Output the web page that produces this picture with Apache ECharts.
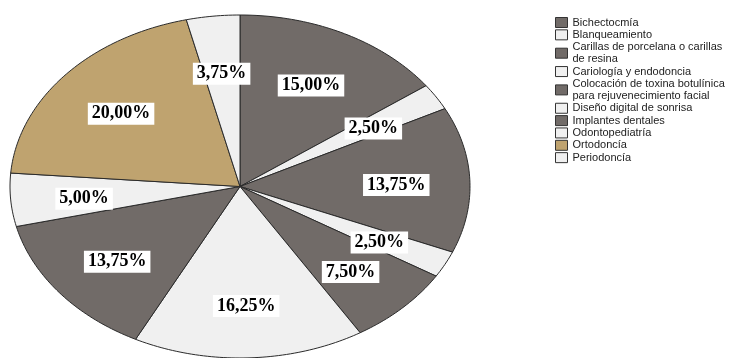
<!DOCTYPE html>
<html><head><meta charset="utf-8">
<script src="https://cdn.jsdelivr.net/npm/echarts@6/dist/echarts.min.js"></script>
<style>html,body{margin:0;padding:0;background:#fff}#c{width:749px;height:358px}</style>
</head><body><div id="c"></div>
<script>
const categories = [
  'Bichectocmía',
  'Blanqueamiento',
  'Carillas de porcelana o carillas\nde resina',
  'Cariología y endodoncia',
  'Colocación de toxina botulínica\npara rejuvenecimiento facial',
  'Diseño digital de sonrisa',
  'Implantes dentales',
  'Odontopediatría',
  'Ortodoncía',
  'Periodoncía'
];
const values = [15.00, 2.50, 13.75, 2.50, 7.50, 16.25, 13.75, 5.00, 20.00, 3.75];
const colors = ['#716b68','#f0f0f0','#716b68','#f0f0f0','#716b68','#f0f0f0','#716b68','#f0f0f0','#bfa36f','#f0f0f0'];

const total = values.reduce((a, b) => a + b, 0);
let cum = 0;
const series = categories.map((name, i) => {
  const start = cum / total; cum += values[i]; const end = cum / total;
  return {
    type: 'custom', name: name, coordinateSystem: 'cartesian2d',
    itemStyle: { color: colors[i], borderColor: '#2b2b2b', borderWidth: 1 },
    data: [[start, end, values[i]]],
    renderItem: function (params, api) {
      const s = api.value(0), e = api.value(1), v = api.value(2);
      const pts = [api.coord([0, 0])];
      const n = Math.max(2, Math.ceil((e - s) * 360));
      for (let k = 0; k <= n; k++) {
        const a = 2 * Math.PI * (s + (e - s) * k / n);
        pts.push(api.coord([Math.sin(a), Math.cos(a)]));
      }
      const m = Math.PI * (s + e);
      const lp = api.coord([0.68 * Math.sin(m), 0.68 * Math.cos(m)]);
      return {
        type: 'group', children: [
          { type: 'polygon', shape: { points: pts }, style: { fill: colors[i], stroke: '#2b2b2b', lineWidth: 1 } },
          { type: 'text', z2: 100, style: {
              x: lp[0], y: lp[1] + 3, text: v.toFixed(2).replace('.', ',') + '%',
              font: 'bold 18px "Liberation Serif"', fill: '#000',
              align: 'center', verticalAlign: 'middle',
              backgroundColor: '#fff', padding: [2, 4]
          } }
        ]
      };
    }
  };
});

const chart = echarts.init(document.getElementById('c'), null, { renderer: 'canvas' });
chart.setOption({
  animation: false,
  backgroundColor: '#fff',
  grid: { left: 10, top: 15, width: 460, height: 348 },
  xAxis: { type: 'value', min: -1, max: 1, show: false },
  yAxis: { type: 'value', min: -1, max: 1, show: false },
  legend: {
    data: categories, orient: 'vertical', left: 555, top: 16.5, padding: 0,
    itemWidth: 12, itemHeight: 10, itemGap: 0.35, selectedMode: false,
    icon: 'rect',
    itemStyle: { borderColor: '#333', borderWidth: 1 },
    textStyle: { fontFamily: 'Liberation Sans', fontSize: 11, lineHeight: 12, color: '#222' }
  },
  series: series
});
</script></body></html>
